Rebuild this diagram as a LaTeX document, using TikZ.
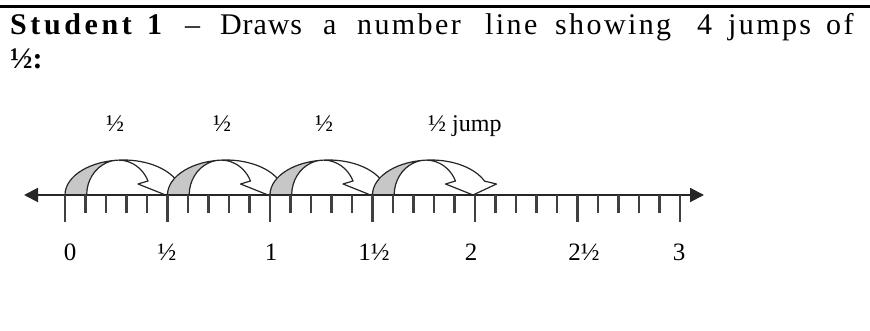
\documentclass[tikz,border=0pt]{standalone}
\usepackage{fontspec}
\setmainfont{Liberation Serif}
\usetikzlibrary{arrows.meta}
\tikzset{
  outline/.style={draw=black!85, line width=1.2pt, line join=round},
  bandfill/.style={fill=black!22},
  tickmark/.style={draw=black!75, line width=2.2pt},
  numlab/.style={font=\fontsize{25}{30}\selectfont, anchor=base, inner sep=0pt},
  jumplab/.style={font=\fontsize{24}{28}\selectfont, anchor=base, inner sep=0pt},
  headword/.style={font=\fontsize{30}{36}\selectfont, anchor=base west, inner sep=0pt},
  jumparrow/.pic={
    \fill[white] (0,0) arc[start angle=180,end angle=23.4,x radius=58.4,y radius=35]
      -- (124,11) -- (100.5,0) -- (73,11) -- (83,14)
      arc[start angle=23.6,end angle=180,x radius=32,y radius=34.8] -- cycle;
    \fill[bandfill] (0,0) arc[start angle=180,end angle=94.3,x radius=58.4,y radius=35]
      arc[start angle=90,end angle=180,x radius=32,y radius=34.9] -- cycle;
    \path[outline] (0,0) arc[start angle=180,end angle=23.4,x radius=58.4,y radius=35]
      -- (124,11) -- (100.5,0) -- (73,11) -- (83,14)
      arc[start angle=23.6,end angle=180,x radius=32,y radius=34.8];
  }
}
\begin{document}
\begin{tikzpicture}[x=1pt,y=1pt]
\useasboundingbox (0,0) rectangle (870,331);
% top rule
\coordinate (ruleL) at (0,324.5);
\coordinate (ruleR) at (870,324.5);
\draw[line width=3pt] (ruleL) -- (ruleR);
% heading
\node[headword] (w1) at (10,296) {\addfontfeature{LetterSpace=12}\textbf{Student}};
\node[headword] (w2) at (147,296) {\textbf{1}};
\node[headword] (w3) at (185,296) {–};
\node[headword] (w4) at (220,296) {\addfontfeature{LetterSpace=3}Draws};
\node[headword] (w5) at (323,296) {a};
\node[headword] (w6) at (357,296) {\addfontfeature{LetterSpace=8}number};
\node[headword] (w7) at (485,296) {\addfontfeature{LetterSpace=8}line};
\node[headword] (w8) at (555,296) {\addfontfeature{LetterSpace=8}showing};
\node[headword] (w9) at (697,296) {4};
\node[headword] (w10) at (728,296) {\addfontfeature{LetterSpace=8}jumps};
\node[headword] (w11) at (826,296) {\addfontfeature{LetterSpace=8}of};
\node[headword] (w12) at (10,262) {\textbf{½:}};
% jump arrows
\pic at (65,136) {jumparrow};
\pic at (167.5,136) {jumparrow};
\pic at (270,136) {jumparrow};
\pic at (372.5,136) {jumparrow};
% number line
\coordinate (NL) at (24,136);
\coordinate (NR) at (704,136);
\draw[line width=2pt, black!85, {Triangle[length=14pt,width=14pt]}-{Triangle[length=14pt,width=14pt]}] (NL) -- (NR);
\foreach \i in {0,...,30}{
  \pgfmathsetmacro\tx{65+\i*20.5}
  \pgfmathtruncatemacro\m{mod(\i,5)}
  \ifnum\m=0
    \draw[tickmark] (\tx,136) -- (\tx,109);
  \else
    \draw[tickmark] (\tx,136) -- (\tx,118);
  \fi
}
% number labels
\node[numlab] (n0) at (70,70.5) {0};
\node[numlab] (n1) at (167,70.5) {½};
\node[numlab] (n2) at (271,70.5) {1};
\node[numlab] (n3) at (374,70.5) {1½};
\node[numlab] (n4) at (471,70.5) {2};
\node[numlab] (n5) at (584,70.5) {2½};
\node[numlab] (n6) at (679,70.5) {3};
% jump labels
\node[jumplab] (j1) at (115,199) {½};
\node[jumplab] (j2) at (222,199) {½};
\node[jumplab] (j3) at (324,199) {½};
\node[jumplab, anchor=base west] (j4) at (428,199) {½ jump};
\end{tikzpicture}
\end{document}
